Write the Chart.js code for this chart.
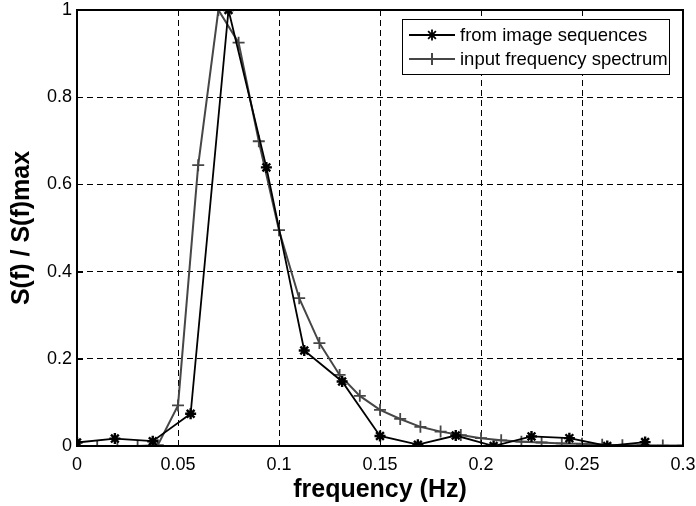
<!DOCTYPE html>
<html><head><meta charset="utf-8">
<script src="https://cdn.jsdelivr.net/npm/chart.js@4/dist/chart.umd.min.js"></script>
<style>html,body{margin:0;padding:0;background:#fff}#wrap{width:696px;height:506px;position:relative}canvas{display:block}</style>
</head><body><div id="wrap"><canvas id="c" width="696" height="506" style="width:696px;height:506px"></canvas></div>
<script>
// ---- data ----
const imageFreq = [0, 0.01875, 0.0375, 0.05625, 0.075, 0.09375, 0.1125, 0.13125, 0.15, 0.16875, 0.1875, 0.20625, 0.225, 0.24375, 0.2625, 0.28125];
const imageValues = [0.008, 0.017, 0.011, 0.074, 1.000, 0.639, 0.219, 0.148, 0.023, 0.003, 0.024, 0.000, 0.022, 0.018, 0.000, 0.009];
const inputFreq = [0, 0.01, 0.02, 0.03, 0.04, 0.05, 0.06, 0.07, 0.08, 0.09, 0.10, 0.11, 0.12, 0.13, 0.14, 0.15, 0.16, 0.17, 0.18, 0.19, 0.20, 0.21, 0.22, 0.23, 0.24, 0.25, 0.26, 0.27, 0.28, 0.29, 0.30];
const inputValues = [0.000, 0.000, 0.000, 0.000, 0.002, 0.093, 0.644, 1.000, 0.925, 0.699, 0.495, 0.339, 0.236, 0.163, 0.115, 0.083, 0.062, 0.044, 0.033, 0.025, 0.018, 0.013, 0.010, 0.008, 0.006, 0.005, 0.003, 0.002, 0.002, 0.001, 0.001];
const seriesLabels = ['from image sequences', 'input frequency spectrum'];
const xTickValues = [0, 0.05, 0.1, 0.15, 0.2, 0.25, 0.3];
const xTickLabels = ['0', '0.05', '0.1', '0.15', '0.2', '0.25', '0.3'];
const yTickValues = [0, 0.2, 0.4, 0.6, 0.8, 1];
const yTickLabels = ['0', '0.2', '0.4', '0.6', '0.8', '1'];
const xTitle = 'frequency (Hz)';
const yTitle = 'S(f) / S(f)max';

const FONT = "'Liberation Sans', Arial, Helvetica, sans-serif";
Chart.defaults.font.family = FONT;
Chart.defaults.color = '#000';

const toPts = (xs, ys) => xs.map((x, i) => ({x: x, y: ys[i]}));

const framePlugin = {
  id: 'frame',
  afterDatasetsDraw(chart) {
    const {ctx, chartArea: a, scales: {x, y}} = chart;
    ctx.save();
    ctx.strokeStyle = '#000';
    ctx.lineWidth = 1;
    ctx.setLineDash([]);
    ctx.beginPath();
    x.ticks.forEach(t => {
      const px = Math.round(x.getPixelForValue(t.value)) + 0.5;
      ctx.moveTo(px, a.bottom); ctx.lineTo(px, a.bottom - 6);
      ctx.moveTo(px, a.top); ctx.lineTo(px, a.top + 6);
    });
    y.ticks.forEach(t => {
      const py = Math.round(y.getPixelForValue(t.value)) + 0.5;
      ctx.moveTo(a.left, py); ctx.lineTo(a.left + 6, py);
      ctx.moveTo(a.right, py); ctx.lineTo(a.right - 6, py);
    });
    ctx.stroke();
    ctx.lineWidth = 2;
    ctx.strokeRect(a.left, a.top, a.right - a.left, a.bottom - a.top);
    // legend box (top right, inside the axes)
    const lx = a.right - 281, ly = a.top + 9, lw = 267, lh = 55;
    ctx.fillStyle = '#fff';
    ctx.fillRect(lx, ly, lw, lh);
    ctx.lineWidth = 1;
    ctx.strokeStyle = '#000';
    ctx.strokeRect(lx + 0.5, ly + 0.5, lw, lh);
    ctx.font = '18.5px ' + FONT;
    ctx.textBaseline = 'middle';
    ctx.textAlign = 'left';
    chart.data.datasets.forEach((ds, i) => {
      const cy = ly + 16 + i * 24;
      ctx.strokeStyle = ds.borderColor;
      ctx.lineWidth = ds.borderWidth;
      ctx.beginPath();
      ctx.moveTo(lx + 7, cy); ctx.lineTo(lx + 53, cy);
      ctx.stroke();
      Chart.helpers.drawPoint(ctx, {pointStyle: ds.pointStyle, radius: ds.pointRadius, borderWidth: ds.pointBorderWidth, rotation: 0}, lx + 30, cy);
      ctx.fillStyle = '#000';
      ctx.fillText(ds.label, lx + 58, cy + 1);
    });
    ctx.restore();
  }
};

new Chart(document.getElementById('c'), {
  type: 'line',
  data: {
    datasets: [
      {
        label: seriesLabels[0],
        data: toPts(imageFreq, imageValues),
        borderColor: '#000', backgroundColor: '#000',
        borderWidth: 1.8, pointStyle: 'star', pointRadius: 5.5, pointBorderWidth: 2.4,
        pointBorderColor: '#000', tension: 0, fill: false
      },
      {
        label: seriesLabels[1],
        data: toPts(inputFreq, inputValues),
        borderColor: '#464646', backgroundColor: '#464646',
        borderWidth: 2, pointStyle: 'cross', pointRadius: 6, pointBorderWidth: 1.8,
        pointBorderColor: '#464646', tension: 0, fill: false
      }
    ]
  },
  options: {
    responsive: false, animation: false, devicePixelRatio: 1,
    maintainAspectRatio: false,
    layout: {padding: {top: 10, right: 13, left: 0, bottom: 0}},
    plugins: {legend: {display: false}, tooltip: {enabled: false}},
    scales: {
      x: {
        type: 'linear', min: 0, max: 0.3,
        afterBuildTicks: s => { s.ticks = xTickValues.map(v => ({value: v})); },
        afterFit: s => { s.height = 60; s.paddingLeft = 0; s.paddingRight = 0; },
        ticks: {font: {size: 18}, padding: 8, maxRotation: 0, autoSkip: false,
                callback: (v, i) => xTickLabels[i]},
        grid: {color: '#000', lineWidth: 1, drawTicks: false},
        border: {display: false, dash: [6, 4]},
        title: {display: true, text: xTitle, font: {size: 25, weight: 'bold'}, padding: {top: 0, bottom: 1}}
      },
      y: {
        type: 'linear', min: 0, max: 1,
        afterBuildTicks: s => { s.ticks = yTickValues.map(v => ({value: v})); },
        afterFit: s => { s.width = 77; s.paddingTop = 0; s.paddingBottom = 0; },
        ticks: {font: {size: 18}, padding: 5, autoSkip: false,
                callback: (v, i) => yTickLabels[i]},
        grid: {color: '#000', lineWidth: 1, drawTicks: false},
        border: {display: false, dash: [6, 4]},
        title: {display: true, text: yTitle, font: {size: 25, weight: 'bold'}, padding: {top: 7, bottom: 0}}
      }
    }
  },
  plugins: [framePlugin]
});
</script></body></html>
